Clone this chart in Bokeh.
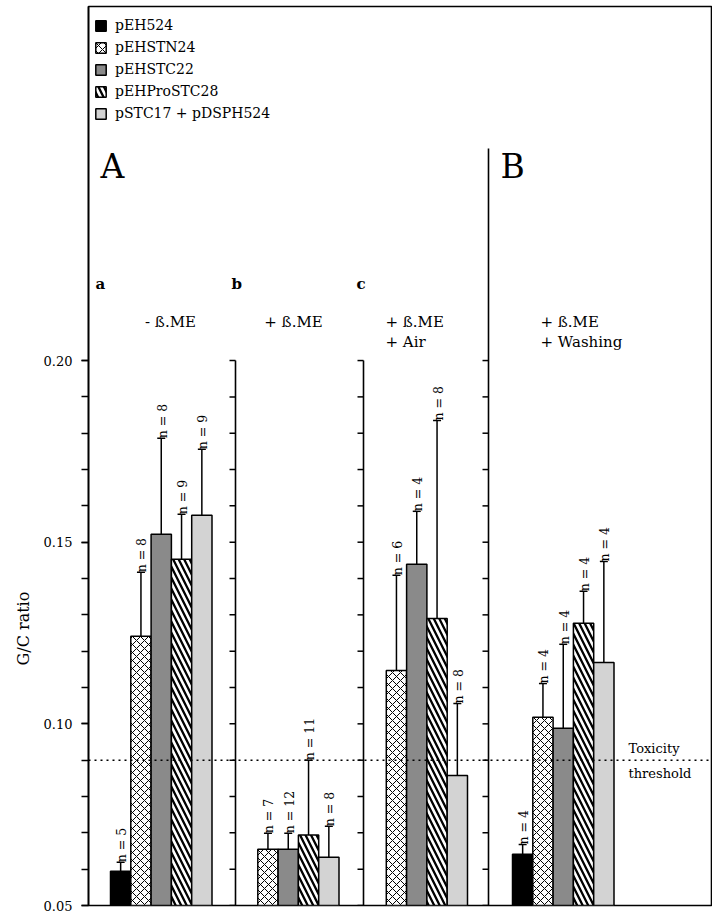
import numpy as np
from bokeh.plotting import figure
from bokeh.models import (ColumnDataSource, Range1d, FixedTicker, NumeralTickFormatter,
                          Whisker, TeeHead, Span, Legend, LegendItem, Title)
from bokeh.core.properties import value
from bokeh.embed import file_html
from bokeh.resources import INLINE

# ---------------- data ----------------
series_names = ["pEH524", "pEHSTN24", "pEHSTC22", "pEHProSTC28", "pSTC17 + pDSPH524"]
panel_ids = ["a", "b", "c", "B"]

a_mean = [0.0594, 0.1241, 0.1522, 0.1453, 0.1574]
a_upper = [0.0619, 0.1417, 0.1786, 0.1577, 0.1756]
a_n = [5, 8, 8, 9, 9]

b_mean = [None, 0.0655, 0.0655, 0.0694, 0.0633]
b_upper = [None, 0.0699, 0.0699, 0.0900, 0.0718]
b_n = [None, 7, 12, 11, 8]

c_mean = [None, 0.1147, 0.1439, 0.1290, 0.0858]
c_upper = [None, 0.1409, 0.1585, 0.1835, 0.1056]
c_n = [None, 6, 4, 8, 8]

B_mean = [0.0641, 0.1018, 0.0988, 0.1277, 0.1169]
B_upper = [0.0668, 0.1111, 0.1219, 0.1365, 0.1447]
B_n = [4, 4, 4, 4, 4]

threshold = 0.09
y_major = [0.05, 0.10, 0.15, 0.20]
y_minor = [0.05, 0.06, 0.07, 0.08, 0.09, 0.10, 0.11, 0.12, 0.13, 0.14,
           0.15, 0.16, 0.17, 0.18, 0.19, 0.20]

panel_means = [a_mean, b_mean, c_mean, B_mean]
panel_uppers = [a_upper, b_upper, c_upper, B_upper]
panel_ns = [a_n, b_n, c_n, B_n]

# ---------------- layout / style ----------------
FONT = "DejaVu Serif"
W, H = 712, 913
ML, MR, MT, MB = 88, 0, 6, 8
FW = W - ML - MR
FH = H - MT - MB
PX_PER_UNIT = 3633.0
Y0 = 0.05
Y1 = Y0 + FH / PX_PER_UNIT

slot_left = [22, 149, 277.5, 424]     # left edge of first bar slot in each panel (px)
bar_w = 20.3
inner_axes_x = [147, 275, 400]
inner_axes_top = [0.20, 0.20, 0.2584]

fills = ["black", "white", "#8a8a8a", "white", "#d3d3d3"]
hatches = [" ", "x", " ", "\\", " "]
hatch_scales = [8, 8, 8, 11, 8]
hatch_weights = [1, 1, 1, 2.3, 1]

p = figure(width=W, height=H, output_backend="svg", toolbar_location=None,
           x_range=Range1d(0, FW), y_range=Range1d(Y0, Y1),
           min_border_left=ML, min_border_right=MR, min_border_top=MT,
           min_border_bottom=MB, title=None)
p.xaxis.visible = False
p.xgrid.visible = False
p.ygrid.visible = False
p.outline_line_color = "black"
p.outline_line_width = 1.6
p.background_fill_color = "white"
p.border_fill_color = "white"

ax = p.yaxis[0]
ax.ticker = FixedTicker(ticks=y_major, minor_ticks=y_minor)
ax.formatter = NumeralTickFormatter(format="0.00")
ax.major_tick_in = 0
ax.major_tick_out = 7
ax.minor_tick_in = 0
ax.minor_tick_out = 7
ax.major_tick_line_width = 1.5
ax.minor_tick_line_width = 1.5
ax.axis_line_width = 1.6
ax.major_label_standoff = 9
ax.major_label_text_font = FONT
ax.major_label_text_font_size = "13px"
ax.major_label_text_color = "black"

ylab = Title(text="G/C ratio", align="left", offset=240, text_font=FONT,
             text_font_size="16px", text_font_style="normal", text_color="black",
             standoff=16)
p.add_layout(ylab, "left")

# ---------------- bars ----------------
renderers = []
for i, name in enumerate(series_names):
    xs, tops, ups, labs = [], [], [], []
    for g in range(len(panel_ids)):
        m = panel_means[g][i]
        if m is None:
            continue
        xs.append(slot_left[g] + (i + 0.5) * bar_w)
        tops.append(m)
        ups.append(panel_uppers[g][i])
        labs.append("n = %d" % panel_ns[g][i])
    src = ColumnDataSource(dict(x=xs, top=tops, upper=ups, lab=labs))
    r = p.vbar(x="x", width=bar_w, bottom=Y0, top="top", source=src,
               fill_color=fills[i], line_color="black", line_width=1.5,
               hatch_pattern=hatches[i], hatch_color="black",
               hatch_scale=hatch_scales[i], hatch_weight=hatch_weights[i])
    renderers.append(r)
    p.add_layout(Whisker(base="x", lower="top", upper="upper", source=src,
                         line_width=1.5, line_color="black",
                         upper_head=TeeHead(size=8, line_width=1.5, line_color="black"),
                         lower_head=None))
    p.text(x="x", y="upper", text="lab", source=src, angle=np.pi / 2,
           text_align="left", text_baseline="middle", x_offset=1,
           text_font=value(FONT), text_font_size="12.5px", text_color="black")

# ---------------- inner axes ----------------
p.segment(x0=inner_axes_x, y0=[Y0] * 3, x1=inner_axes_x, y1=inner_axes_top,
          line_color="black", line_width=1.6)
tx0, tx1, ty = [], [], []
for xa in inner_axes_x:
    for t in y_minor:
        tx0.append(xa - 6)
        tx1.append(xa)
        ty.append(t)
p.segment(x0=tx0, y0=ty, x1=tx1, y1=ty, line_color="black", line_width=1.5)

# threshold
p.add_layout(Span(location=threshold, dimension="width", line_color="black",
                  line_width=1.5, line_dash="2 4"))

# ---------------- texts ----------------
def txt(x, y, s, size, style="normal", align="left", baseline="middle"):
    p.text(x=[x], y=[y], text=[s], text_font=value(FONT), text_font_size=size,
           text_font_style=style, text_align=align, text_baseline=baseline,
           text_color="black")

txt(12, 0.2534, "A", "33px")
txt(412, 0.2534, "B", "33px")
txt(7, 0.2212, "a", "15px", "bold")
txt(143, 0.2212, "b", "15px", "bold")
txt(268, 0.2212, "c", "15px", "bold")
txt(82, 0.2107, "- ß.ME", "15px", align="center")
txt(205, 0.2107, "+ ß.ME", "15px", align="center")
txt(297, 0.2107, "+ ß.ME", "15px")
txt(297, 0.2050, "+ Air", "15px")
txt(452, 0.2107, "+ ß.ME", "15px")
txt(452, 0.2050, "+ Washing", "15px")
txt(540, 0.0932, "Toxicity", "13px")
txt(540, 0.0863, "threshold", "13px")

# ---------------- legend ----------------
legend = Legend(items=[LegendItem(label=n, renderers=[r]) for n, r in zip(series_names, renderers)],
                location=(6, FH - 11 - 104), border_line_color=None, background_fill_alpha=0,
                label_text_font=FONT, label_text_font_size="14px", label_text_color="black",
                glyph_width=13, glyph_height=13, label_height=13, spacing=6,
                padding=0, margin=0, label_standoff=8)
p.add_layout(legend)

open("out.html", "w").write(file_html(p, INLINE))
